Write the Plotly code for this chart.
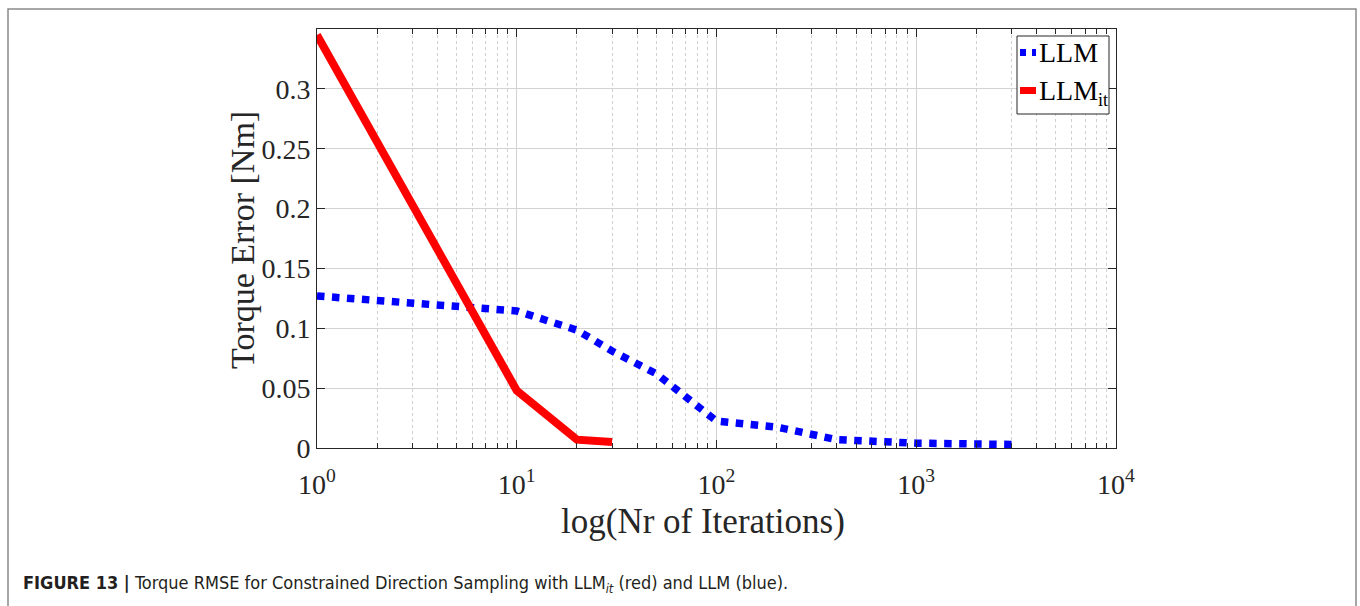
import plotly.graph_objects as go

# ---- data ----
llm_x = [1, 10, 20, 30, 50, 100, 200, 400, 1000, 3000]
llm_y = [0.127, 0.1145, 0.0985, 0.081, 0.062, 0.0225, 0.0175, 0.007, 0.004, 0.003]
llmit_x = [1, 10, 20, 30]
llmit_y = [0.345, 0.048, 0.007, 0.005]

x_tickvals = [1, 10, 100, 1000, 10000]
x_ticktext = ["10<sup>0</sup>", "10<sup>1</sup>", "10<sup>2</sup>", "10<sup>3</sup>", "10<sup>4</sup>"]
y_tickvals = [0, 0.05, 0.1, 0.15, 0.2, 0.25, 0.3]
y_ticktext = ["0", "0.05", "0.1", "0.15", "0.2", "0.25", "0.3"]
minor_x = [m * d for d in [1, 10, 100, 1000] for m in range(2, 10)]

SERIF = "Liberation Serif, Times New Roman, serif"
DARK = "#262626"

W, H = 1360, 606
L, R, T, B = 317, 244, 29, 158
PW, PH = W - L - R, H - T - B


def px(xp):
    return (xp - L) / PW


def py(yp):
    return (H - B - yp) / PH


fig = go.Figure()
fig.add_trace(go.Scatter(x=llm_x, y=llm_y, mode="lines", name="LLM",
                         line=dict(color="#0000ff", width=7.5, dash="dot")))
fig.add_trace(go.Scatter(x=llmit_x, y=llmit_y, mode="lines", name="LLM<sub>it</sub>",
                         line=dict(color="#ff0000", width=8)))

fig.update_layout(
    width=W, height=H,
    margin=dict(l=L, r=R, t=T, b=B, autoexpand=False),
    paper_bgcolor="white", plot_bgcolor="white",
    showlegend=False,
    font=dict(family=SERIF, color=DARK),
)

fig.update_xaxes(
    type="log", range=[0, 4], automargin=False,
    tickmode="array", tickvals=x_tickvals, ticktext=x_ticktext,
    tickfont=dict(family=SERIF, size=28, color=DARK),
    ticks="inside", ticklen=8, tickcolor=DARK, tickwidth=1,
    showline=True, linecolor=DARK, linewidth=1, mirror="ticks",
    showgrid=True, gridcolor="#d2d2d2", gridwidth=1,
    zeroline=False, ticklabelstandoff=11,
    minor=dict(tickmode="array", tickvals=minor_x, ticks="inside", ticklen=5,
               tickcolor=DARK, showgrid=True, gridcolor="#d0d0d0",
               griddash="dot", gridwidth=1),
)
fig.update_yaxes(
    range=[0, 0.35], automargin=False,
    tickmode="array", tickvals=y_tickvals, ticktext=y_ticktext,
    tickfont=dict(family=SERIF, size=28, color=DARK),
    ticks="inside", ticklen=8, tickcolor=DARK, tickwidth=1,
    showline=True, linecolor=DARK, linewidth=1, mirror="ticks",
    showgrid=True, gridcolor="#d2d2d2", gridwidth=1,
    zeroline=False,
)

ann = []
# axis titles
ann.append(dict(text="log(Nr of Iterations)", x=px(703), y=py(521), xref="paper", yref="paper",
                showarrow=False, xanchor="center", yanchor="middle",
                font=dict(family=SERIF, size=35, color=DARK)))
ann.append(dict(text="Torque Error [Nm]", x=px(242), y=py(240), xref="paper", yref="paper",
                showarrow=False, textangle=-90, xanchor="center", yanchor="middle",
                font=dict(family=SERIF, size=34, color=DARK)))
# legend texts
ann.append(dict(text="LLM", x=px(1037), y=py(53), xref="paper", yref="paper",
                showarrow=False, xanchor="left", yanchor="middle",
                font=dict(family=SERIF, size=28, color="black")))
ann.append(dict(text="LLM<sub><span style='font-size:18px'>it</span></sub>", x=px(1037), y=py(92),
                xref="paper", yref="paper",
                showarrow=False, xanchor="left", yanchor="middle",
                font=dict(family=SERIF, size=28, color="black")))
# caption
ann.append(dict(text="<b>FIGURE 13 |</b> Torque RMSE for Constrained Direction Sampling with LLM<sub><i>it</i></sub> (red) and LLM (blue).",
                x=px(21), y=py(584), xref="paper", yref="paper",
                showarrow=False, xanchor="left", yanchor="middle",
                font=dict(family="Liberation Sans Narrow, DejaVu Sans Condensed, Arial Narrow, sans-serif",
                          size=18, color="#231f20")))
fig.update_layout(annotations=ann)

shapes = []
# outer frame
shapes.append(dict(type="rect", xref="paper", yref="paper",
                   x0=px(8), x1=px(1356), y0=py(9), y1=py(640),
                   line=dict(color="#8a8a8a", width=1.5), fillcolor="rgba(0,0,0,0)", layer="below"))
# legend box
shapes.append(dict(type="rect", xref="paper", yref="paper",
                   x0=px(1017), x1=px(1109), y0=py(114), y1=py(36),
                   line=dict(color=DARK, width=1), fillcolor="white", layer="above"))
# legend samples
shapes.append(dict(type="line", xref="paper", yref="paper",
                   x0=px(1020), x1=px(1036), y0=py(52.5), y1=py(52.5),
                   line=dict(color="#0000ff", width=7, dash="6px,6px"), layer="above"))
shapes.append(dict(type="line", xref="paper", yref="paper",
                   x0=px(1020), x1=px(1036), y0=py(90.5), y1=py(90.5),
                   line=dict(color="#ff0000", width=7), layer="above"))
fig.update_layout(shapes=shapes)

fig.write_html("out.html")
